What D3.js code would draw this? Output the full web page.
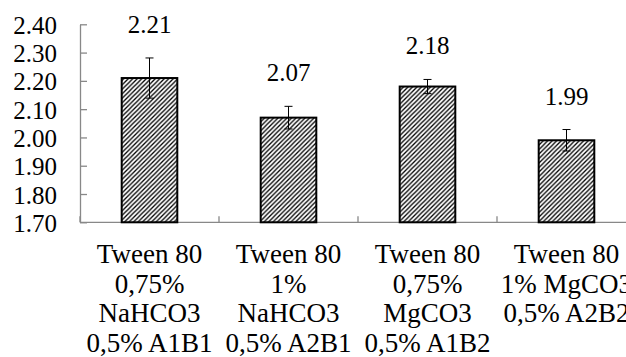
<!DOCTYPE html>
<html>
<head>
<meta charset="utf-8">
<script src="https://cdn.jsdelivr.net/npm/d3@7"></script>
<style>
  body { margin: 0; background: #fff; }
  svg { display: block; }
</style>
</head>
<body>
<div id="chart"></div>
<script>
// categories (each split into the lines shown under the axis)
var categories = ["A1B1", "A2B1", "A1B2", "A2B2"];
var categoryLines = [
    ["Tween 80", "0,75%", "NaHCO3", "0,5% A1B1"],
    ["Tween 80", "1%", "NaHCO3", "0,5% A2B1"],
    ["Tween 80", "0,75%", "MgCO3", "0,5% A1B2"],
    ["Tween 80", "1% MgCO3", "0,5% A2B2"]
];
var values = [2.21, 2.07, 2.18, 1.99];
var errors = [0.071, 0.040, 0.025, 0.038];
var yTicks = [1.70, 1.80, 1.90, 2.00, 2.10, 2.20, 2.30, 2.40];

var width = 626, height = 357;
var margin = {top: 24.3, left: 80, bottom: 134.7};
var fontStack = "'Times New Roman', Times, 'Liberation Serif', 'DejaVu Serif', serif";

var svg = d3.select("#chart").append("svg")
    .attr("width", width)
    .attr("height", height)
    .style("font-family", fontStack)
    .style("font-size", "25px");

// hatch fill like the excel pattern
var defs = svg.append("defs");
defs.append("pattern")
    .attr("id", "hatch")
    .attr("patternUnits", "userSpaceOnUse")
    .attr("width", 4.5)
    .attr("height", 4.5)
    .append("path")
    .attr("d", "M-1,1 l2,-2 M0,4.5 l4.5,-4.5 M3.5,5.5 l2,-2")
    .attr("stroke", "#000")
    .attr("stroke-width", 1.3);

var xScale = d3.scaleBand()
    .domain(categories)
    .range([margin.left, 636])
    .paddingInner(0.6)
    .paddingOuter(0.3);

var yScale = d3.scaleLinear()
    .domain([1.7, 2.4])
    .range([height - margin.bottom, margin.top]);

// y axis, ticks pointing into the plot
var yAxis = svg.append("g")
    .attr("transform", "translate(" + margin.left + ",0)")
    .call(d3.axisLeft(yScale)
        .tickValues(yTicks)
        .tickFormat(d3.format(".2f"))
        .tickSizeInner(-7)
        .tickSizeOuter(0)
        .tickPadding(23));
yAxis.attr("font-family", null).attr("font-size", null);
yAxis.select(".domain").attr("stroke", "#888").attr("stroke-width", 1.3);
yAxis.selectAll(".tick line").attr("stroke", "#888").attr("stroke-width", 1.3);
yAxis.selectAll(".tick text")
    .attr("fill", "#000")
    .attr("dy", "0.36em");

// x axis line with boundary ticks between categories
var step = xScale.step();
var bounds = categories.map(function(d) {
    return xScale(d) - xScale.paddingOuter() * step;
});
bounds.push(bounds[bounds.length - 1] + step);

svg.append("line")
    .attr("x1", margin.left)
    .attr("x2", 636)
    .attr("y1", yScale(1.7))
    .attr("y2", yScale(1.7))
    .attr("stroke", "#888")
    .attr("stroke-width", 1.3);

svg.selectAll(".xtick")
    .data(bounds)
    .enter()
    .append("line")
    .attr("class", "xtick")
    .attr("x1", function(d) { return d; })
    .attr("x2", function(d) { return d; })
    .attr("y1", yScale(1.7))
    .attr("y2", yScale(1.7) - 6)
    .attr("stroke", "#888")
    .attr("stroke-width", 1.3);

// bars
svg.selectAll(".bar")
    .data(values)
    .enter()
    .append("rect")
    .attr("class", "bar")
    .attr("x", function(d, i) { return xScale(categories[i]); })
    .attr("y", function(d) { return yScale(d); })
    .attr("width", xScale.bandwidth())
    .attr("height", function(d) { return yScale(1.7) - yScale(d); })
    .attr("fill", "url(#hatch)")
    .attr("stroke", "#000")
    .attr("stroke-width", 2);

// error bars
var err = svg.selectAll(".err")
    .data(values)
    .enter()
    .append("g")
    .attr("class", "err")
    .attr("transform", function(d, i) {
        return "translate(" + (xScale(categories[i]) + xScale.bandwidth() / 2) + ",0)";
    });
err.append("line")
    .attr("y1", function(d, i) { return yScale(d + errors[i]); })
    .attr("y2", function(d, i) { return yScale(d - errors[i]); })
    .attr("stroke", "#000");
err.append("line")
    .attr("x1", -4).attr("x2", 4)
    .attr("y1", function(d, i) { return yScale(d + errors[i]); })
    .attr("y2", function(d, i) { return yScale(d + errors[i]); })
    .attr("stroke", "#000");
err.append("line")
    .attr("x1", -4).attr("x2", 4)
    .attr("y1", function(d, i) { return yScale(d - errors[i]); })
    .attr("y2", function(d, i) { return yScale(d - errors[i]); })
    .attr("stroke", "#000");

// value labels above the error bars
svg.selectAll(".val")
    .data(values)
    .enter()
    .append("text")
    .attr("class", "val")
    .attr("text-anchor", "middle")
    .attr("x", function(d, i) { return xScale(categories[i]) + xScale.bandwidth() / 2; })
    .attr("y", function(d, i) { return yScale(d + errors[i]) - 25; })
    .text(function(d) { return d3.format(".2f")(d); });

// category labels, several lines each
var cat = svg.selectAll(".cat")
    .data(categoryLines)
    .enter()
    .append("text")
    .attr("class", "cat")
    .attr("text-anchor", "middle")
    .style("font-size", "27px")
    .attr("x", function(d, i) { return xScale(categories[i]) + xScale.bandwidth() / 2; })
    .attr("y", 263);
cat.selectAll("tspan")
    .data(function(d) { return d; })
    .enter()
    .append("tspan")
    .attr("x", function() { return d3.select(this.parentNode).attr("x"); })
    .attr("dy", function(d, j) { return j === 0 ? 0 : 29.5; })
    .text(function(d) { return d; });
</script>
</body>
</html>
